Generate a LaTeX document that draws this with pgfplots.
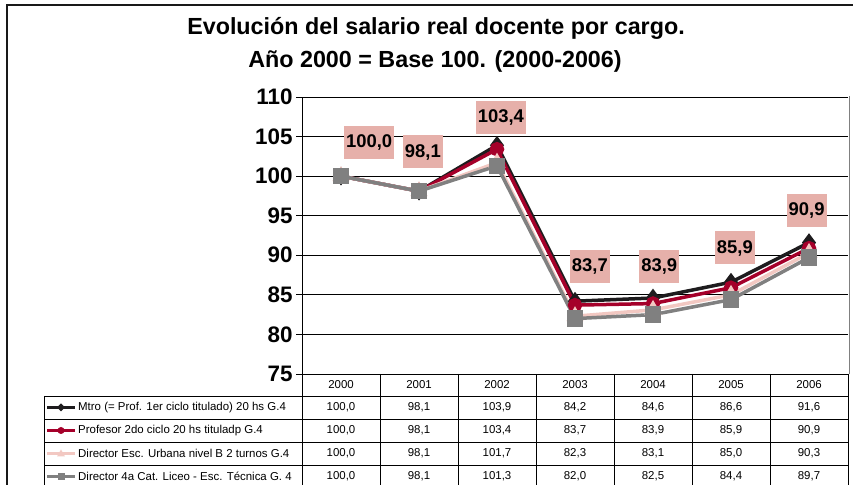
\documentclass[border=0pt]{standalone}
\usepackage{pgfplots}
\pgfplotsset{compat=1.18}
\usepackage{fontspec}
\setmainfont{Liberation Sans}
\definecolor{serA}{RGB}{30,28,30}
\definecolor{serB}{RGB}{165,0,42}
\definecolor{serC}{RGB}{242,200,194}
\definecolor{serD}{RGB}{128,128,128}
\definecolor{lblbg}{RGB}{230,176,170}
\begin{document}
\begin{tikzpicture}[x=1bp,y=1bp]
% title
\node[font=\fontsize{23.4}{24}\selectfont\bfseries] at (436,457) {Evolución del salario real docente por cargo.};
\node[font=\fontsize{23.4}{24}\selectfont\bfseries] at (435,424) {Año 2000 = Base 100. (2000-2006)};
\begin{axis}[
  at={(302bp,111bp)}, anchor=south west,
  scale only axis, width=546bp, height=277bp,
  xmin=-0.5, xmax=6.5, ymin=75, ymax=110,
  xtick=\empty,
  ytick={75,80,...,110},
  ymajorgrids, grid style={black, line width=0.8bp},
  axis lines*=left, axis line style={black, line width=0.8bp},
  tick align=outside, major tick length=6bp,
  ytick style={black, line width=0.8bp},
  yticklabel style={font=\fontsize{22.5}{22.5}\selectfont\bfseries},
  /pgf/number format/assume math mode=true,
  every axis plot/.append style={line width=3.5bp, mark options={solid}},
]
\addplot[serA, mark=diamond*, mark size=6.5bp] coordinates {(0,100.0)(1,98.1)(2,103.9)(3,84.2)(4,84.6)(5,86.6)(6,91.6)};
\addplot[serB, mark=*, mark size=5.5bp] coordinates {(0,100.0)(1,98.1)(2,103.4)(3,83.7)(4,83.9)(5,85.9)(6,90.9)};
\addplot[serC, mark=triangle*, mark size=6.5bp] coordinates {(0,100.0)(1,98.1)(2,101.7)(3,82.3)(4,83.1)(5,85.0)(6,90.3)};
\addplot[serD, mark=square*, mark size=6.5bp] coordinates {(0,100.0)(1,98.1)(2,101.3)(3,82.0)(4,82.5)(5,84.4)(6,89.7)};
\tikzset{lbl/.style={fill=lblbg, font=\fontsize{18.5}{18.5}\selectfont\bfseries, inner xsep=2bp, inner ysep=0pt, minimum height=33bp}}
\node[lbl] at (axis cs:0.36,104.25) {100,0};
\node[lbl] at (axis cs:1.05,103.05) {98,1};
\node[lbl] at (axis cs:2.05,107.47) {103,4};
\node[lbl] at (axis cs:3.19,88.52) {83,7};
\node[lbl] at (axis cs:4.08,88.52) {83,9};
\node[lbl] at (axis cs:5.05,90.92) {85,9};
\node[lbl] at (axis cs:5.97,95.72) {90,9};
\end{axis}
% right border of plot area
\draw[serD, line width=1.2bp] (849.5,111) -- (849.5,388.5);
% data table
\begin{scope}[line width=0.8bp, black]
\foreach \yy in {89,66,43,20,-3} \draw (44,\yy) -- (848,\yy);
\draw (44,89) -- (44,-3);
\draw (302,111) -- (302,-3);
\foreach \xx in {380,458,536,614,692,770,848} \draw (\xx,111) -- (\xx,-3);
\end{scope}
\begin{scope}[font=\fontsize{11.5}{13}\selectfont]
\foreach \yr [count=\i from 0] in {2000,2001,2002,2003,2004,2005,2006}
  \node at (341+78*\i,100) {\yr};
\foreach \v [count=\i from 0] in {{100,0},{98,1},{103,9},{84,2},{84,6},{86,6},{91,6}}
  \node at (341+78*\i,77.5) {\v};
\foreach \v [count=\i from 0] in {{100,0},{98,1},{103,4},{83,7},{83,9},{85,9},{90,9}}
  \node at (341+78*\i,54.5) {\v};
\foreach \v [count=\i from 0] in {{100,0},{98,1},{101,7},{82,3},{83,1},{85,0},{90,3}}
  \node at (341+78*\i,31.5) {\v};
\foreach \v [count=\i from 0] in {{100,0},{98,1},{101,3},{82,0},{82,5},{84,4},{89,7}}
  \node at (341+78*\i,8.5) {\v};
\node[anchor=west, inner sep=0pt] at (78,77.5) {Mtro (= Prof. 1er ciclo titulado) 20 hs G.4};
\node[anchor=west, inner sep=0pt] at (78,54.5) {Profesor 2do ciclo 20 hs tituladp G.4};
\node[anchor=west, inner sep=0pt] at (78,31.5) {Director Esc. Urbana nivel B 2 turnos G.4};
\node[anchor=west, inner sep=0pt] at (78,8.5) {Director 4a Cat. Liceo - Esc. Técnica G. 4};
\end{scope}
% legend keys
\draw[serA, line width=3.5bp] (47,77.5) -- (75,77.5);
\fill[serA] (61,81.5) -- (65,77.5) -- (61,73.5) -- (57,77.5) -- cycle;
\draw[serB, line width=3.5bp] (47,54.5) -- (75,54.5);
\fill[serB] (61,54.5) circle (3.5);
\draw[serC, line width=3.5bp] (47,31.5) -- (75,31.5);
\fill[serC] (61,35.5) -- (65,28.5) -- (57,28.5) -- cycle;
\draw[serD, line width=3.5bp] (47,8.5) -- (75,8.5);
\fill[serD] (57.5,5) rectangle (64.5,12);
% outer frame
\draw[black!90, line width=2bp] (7,-10) -- (7,480) -- (870,480);
\pgfresetboundingbox
\useasboundingbox (0,0) rectangle (853,485);
\end{tikzpicture}
\end{document}
